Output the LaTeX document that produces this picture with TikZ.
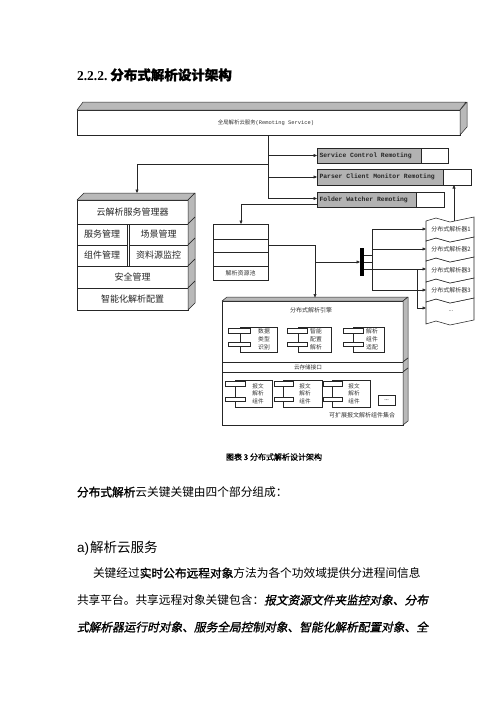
\documentclass[tikz,border=0pt]{standalone}
\usepackage{fontspec}
\setmainfont{Liberation Serif}
\newfontfamily\cjk{Noto Sans CJK SC}
\newfontfamily\cjkb[FakeBold=1.2]{Noto Sans CJK SC}
\newfontfamily\cjkbi[FakeBold=1.2,FakeSlant=0.2]{Noto Sans CJK SC}
\newfontfamily\mono{Liberation Mono}
\newfontfamily\lsans{Liberation Sans}
\usetikzlibrary{arrows.meta}
\newcommand\compo[6]{%
  \filldraw[ln, fill=white] (#1,#2) rectangle (#3,#4);
  \filldraw[ln, fill=white] (#5,#2+1.5) rectangle (#5+#6,#2+6);
  \filldraw[ln, fill=white] (#5,#4-10) rectangle (#5+#6,#4-5.5);}
\newcommand\pbox[4]{%
  \filldraw[ln, fill=white] (426,#1+2) -- (436,#1-1) -- (450,#1+3) -- (474,#1-2)
    -- (474,#1+#2-2) -- (450,#1+#2+3) -- (436,#1+#2-1) -- (426,#1+#2+2) -- cycle;
  \node[small] (#3t) at (451,#1+#2/2+0.5) {#4};}
\begin{document}
\begin{tikzpicture}[x=1pt,y=-1pt,
  every node/.style={inner sep=0pt, outer sep=0pt},
  box/.style={draw=black!85, fill=white, line width=0.5pt, anchor=north west},
  gbox/.style={draw=black!85, fill=gray!60, line width=0.5pt, anchor=north west},
  face/.style={draw=black!85, fill=gray!55, line width=0.5pt, line join=round},
  ln/.style={draw=black!85, line width=0.55pt},
  arr/.style={ln, -{Triangle[length=3.5pt,width=3pt]}},
  small/.style={font=\cjk\fontsize{6}{7}\selectfont, text=black!80},
  mgr/.style={font=\cjk\fontsize{9}{10}\selectfont, text=black!85},
  rem/.style={font=\mono\bfseries\fontsize{6.4}{7}\selectfont, text=black!85},
  three/.style={font=\cjk\fontsize{5.8}{8.2}\selectfont, text=black!80, align=center},
  body/.style={anchor=base west, font=\fontsize{11.7}{14}\selectfont}
]
\useasboundingbox (0,0) rectangle (500,707);

% heading
\node[anchor=base west, font=\bfseries\fontsize{13.5}{16}\selectfont] (head) at (77,80)
  {2.2.2.\hspace{3pt}{\cjkb 分布式解析设计架构}};

% top 3D box
\node[box, minimum width=383pt, minimum height=25pt] (top) at (77,110) {};
\filldraw[face] (top.north west) -- ++(6,-8) -- ++(383,0) -- (top.north east) -- cycle;
\filldraw[face] (top.north east) -- ++(7,-8) -- ++(0,25) -- (top.south east) -- cycle;
\node[font=\fontsize{5.4}{6}\selectfont, text=black!80] (topt) at (266,122.5)
  {{\cjk 全局解析云服务}{\mono(Remoting Service)}};

% remoting boxes
\node[gbox, minimum width=104pt, minimum height=15pt] (scr) at (317,148) {};
\node[box, minimum width=27pt, minimum height=15pt] (scrw) at (scr.north east) {};
\node[rem, anchor=west] (scrt) at ([xshift=2.5pt]scr.west) {Service Control Remoting};
\node[gbox, minimum width=126pt, minimum height=16pt] (pcm) at (317,169) {};
\node[box, minimum width=28pt, minimum height=16pt] (pcmw) at (pcm.north east) {};
\node[rem, anchor=west] (pcmt) at ([xshift=2.5pt]pcm.west) {Parser Client Monitor Remoting};
\node[gbox, minimum width=99pt, minimum height=15pt] (fw) at (317,192) {};
\node[box, minimum width=28pt, minimum height=15pt] (fww) at (fw.north east) {};
\node[rem, anchor=west] (fwt) at ([xshift=2.5pt]fw.west) {Folder Watcher Remoting};

% manager stack
\node[box, mgr, minimum width=111pt, minimum height=24pt] (m1) at (77,200) {云解析服务管理器};
\filldraw[face] (m1.north west) -- ++(7,-7) -- ++(111,0) -- (m1.north east) -- cycle;
\filldraw[face] (m1.north east) -- ++(7,-7) -- ++(0,24) -- (m1.south east) -- cycle;
\node[box, mgr, minimum width=50pt, minimum height=21pt] (m2a) at (77,224) {服务管理};
\node[box, mgr, minimum width=59pt, minimum height=21pt] (m2b) at (129,224) {场景管理};
\filldraw[face] (m2b.north east) -- ++(7,-7) -- ++(0,21) -- (m2b.south east) -- cycle;
\node[box, mgr, minimum width=50pt, minimum height=21pt] (m3a) at (77,245) {组件管理};
\node[box, mgr, minimum width=59pt, minimum height=21pt] (m3b) at (129,245) {资料源监控};
\filldraw[face] (m3b.north east) -- ++(7,-7) -- ++(0,21) -- (m3b.south east) -- cycle;
\node[box, mgr, minimum width=111pt, minimum height=22pt] (m4) at (77,266) {安全管理};
\filldraw[face] (m4.north east) -- ++(7,-7) -- ++(0,22) -- (m4.south east) -- cycle;
\node[box, mgr, minimum width=111pt, minimum height=22pt] (m5) at (77,288) {智能化解析配置};
\filldraw[face] (m5.north east) -- ++(7,-7) -- ++(0,22) -- (m5.south east) -- cycle;

% resource pool
\node[box, minimum width=55pt, minimum height=56pt] (pool) at (213,224) {};
\draw[ln] (213,239) -- (268,239);
\draw[ln] (213,252) -- (268,252);
\draw[ln] (213,266) -- (268,266);
\node[small] (poolt) at (240.5,273) {解析资源池};

% bar
\node[fill=black, minimum width=4pt, minimum height=28pt, anchor=north west] (bar) at (360,248) {};

% engine
\node[box, minimum width=181pt, minimum height=61pt] (eu) at (222,301) {};
\filldraw[face] (eu.north west) -- ++(5,-4) -- ++(181,0) -- (eu.north east) -- cycle;
\filldraw[face] (eu.north east) -- ++(5,-4) -- ++(0,61) -- (eu.south east) -- cycle;
\node[box, minimum width=181pt, minimum height=10pt] (band) at (222,362) {};
\filldraw[face] (band.north east) -- ++(5,-4) -- ++(0,10) -- (band.south east) -- cycle;
\node[box, minimum width=181pt, minimum height=53pt] (el) at (222,372) {};
\filldraw[face] (el.north east) -- ++(5,-4) -- ++(0,53) -- (el.south east) -- cycle;
\node[small] (eut) at (311,310) {分布式解析引擎};
\node[small, font=\cjk\fontsize{5.6}{6}\selectfont] (bandt) at (308,367) {云存储接口};
\compo{240}{327}{277}{352}{228}{22}
\node[three] (c1) at (264,339.5) {数据\\类型\\识别};
\compo{298}{327}{331}{352}{287}{20}
\node[three] (c2) at (316,339.5) {智能\\配置\\解析};
\compo{353}{327}{384}{352}{343}{20}
\node[three] (c3) at (372,339.5) {解析\\组件\\适配};
\compo{235}{380}{272}{407}{225}{20}
\node[three, font=\cjk\fontsize{5.6}{7.6}\selectfont] (d1) at (258,393.5) {报文\\解析\\组件};
\compo{283}{380}{322}{407}{274}{19}
\node[three, font=\cjk\fontsize{5.6}{7.6}\selectfont] (d2) at (305,393.5) {报文\\解析\\组件};
\compo{332}{380}{370}{407}{323}{19}
\node[three, font=\cjk\fontsize{5.6}{7.6}\selectfont] (d3) at (354,393.5) {报文\\解析\\组件};
\node[box, minimum width=17pt, minimum height=10pt, font=\fontsize{6}{6}\selectfont] (dots) at (378,395) {...};
\node[small] (elt) at (362,415) {可扩展报文解析组件集合};

% connectors
\coordinate (tr) at (268,198.5);
\draw[ln] (top.south -| tr) -- (tr);
\draw[arr] (tr |- scr.west) -- (scr.west);
\draw[arr] (tr |- pcm.west) -- (pcm.west);
\draw[arr] (tr) -- (fw.west |- tr);
\coordinate (mj) at (268,164);
\coordinate (mtop) at (137,193);
\draw[arr] (mj) -| (mtop);
\coordinate (fr) at (241,204);
\draw[arr] (fw.west |- fr) -| (pool.north -| fr);
\coordinate (etop) at (315,297.5);
\draw[arr] ([yshift=7pt]pool.east) -| (etop);
\coordinate (kb) at (315,262);
\draw[arr] (kb) -- (bar.west |- kb);

\coordinate (p1) at (426,229);
\coordinate (p2) at (426,249);
\coordinate (p3) at (426,269);
\coordinate (p4) at (426,290);
\coordinate (p5) at (426,308);
\coordinate (v1) at (372,255);
\coordinate (v2) at (372,262);
\coordinate (v3) at (417,269);
\draw[ln] (bar.east |- v1) -- (v1);
\draw[ln] (bar.east |- v2) -- (v2);
\draw[ln] (v1 |- p1) -- (v1 |- p4);
\draw[arr] (v1 |- p1) -- (p1);
\draw[arr] (v1 |- p2) -- (p2);
\draw[arr] (v1 |- p4) -- (p4);
\draw[arr] (bar.east |- p3) -- (p3);
\draw[ln] (v3) -- (v3 |- p5);
\draw[arr] (v3 |- p5) -- (p5);
\coordinate (up) at (454,221.5);
\draw[arr] (up) -- (pcmw.south -| up);

% parser boxes
\pbox{300}{22}{q5}{...}
\pbox{280}{20}{q4}{分布式解析器3}
\pbox{259}{21}{q3}{分布式解析器3}
\pbox{239}{20}{q2}{分布式解析器2}
\pbox{219}{20}{q1}{分布式解析器1}

% caption and body text
\node[font=\cjkb\fontsize{8}{9}\selectfont] (cap) at (274,457) {图表 3 分布式解析设计架构};
\node[body] (l0) at (77,496.5) {{\cjkb 分布式解析}{\cjk 云关键关键由四个部分组成：}};
\node[anchor=base west, font=\fontsize{13.5}{16}\selectfont] (sec) at (77,552)
  {{\lsans a)}\hspace{1pt}{\cjk 解析云服务}};
\node[body] (l1) at (93,577.5) {{\cjk 关键经过}{\cjkb 实时公布远程对象}{\cjk 方法为各个功效域提供分进程间信息}};
\node[body] (l2) at (77,604.5) {{\cjk 共享平台。共享远程对象关键包含：}{\cjkbi 报文资源文件夹监控对象、分布}};
\node[body] (l3) at (77,631.5) {{\cjkbi 式解析器运行时对象、服务全局控制对象、智能化解析配置对象、全}};
\end{tikzpicture}
\end{document}
